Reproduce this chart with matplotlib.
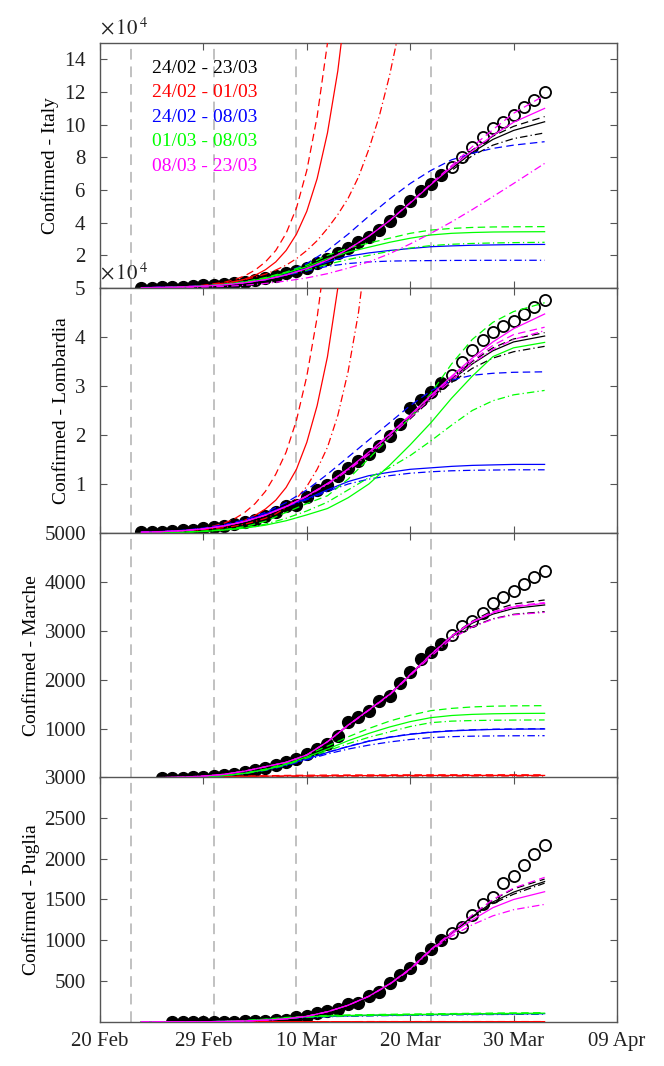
import matplotlib
matplotlib.use('Agg')
import matplotlib.pyplot as plt
from matplotlib.ticker import ScalarFormatter

plt.rcParams['font.family'] = ['Liberation Serif', 'DejaVu Serif']
plt.rcParams['mathtext.fontset'] = 'stix'

# --- x axis (days since 20 Feb, as laid out in the figure) ---
tick_pos = [0, 10, 20, 30, 40, 50]
tick_labels = ['20 Feb', '29 Feb', '10 Mar', '20 Mar', '30 Mar', '09 Apr']
window_lines = [3, 11, 19, 32]
last_fit_day = 33          # filled markers up to here, open ones after

fit_labels = ['24/02 - 23/03', '24/02 - 01/03', '24/02 - 08/03',
              '01/03 - 08/03', '08/03 - 23/03']
fit_colors = ['k', '#ff0000', '#0000ff', '#00ff00', '#ff00ff']

fit_days = [4, 6, 8, 10, 12, 14, 16, 18, 20, 22, 24, 26, 28, 30, 32, 34, 36, 38, 40, 43]
# the steep red curves are read daily
red_days = [4, 6, 8, 10, 12, 13, 14, 15, 16, 17, 18, 19, 20, 21, 22, 23, 24, 25, 26,
            27, 28, 29, 30, 32]

# --- observed confirmed cases ---
italy_start = 4
italy_cases = [229, 322, 400, 650, 888, 1128, 1694, 2036, 2502, 3089, 3858, 4636,
               5883, 7375, 9172, 10149, 12462, 15113, 17660, 21157, 24747, 27980,
               31506, 35713, 41035, 47021, 53578, 59138, 63927, 69176, 74386, 80539,
               86498, 92472, 97689, 101739, 105792, 110574, 115242, 119827]
lomb_start = 4
lomb_cases = [172, 240, 258, 403, 531, 615, 984, 1254, 1520, 1820, 2251, 2612,
              3420, 4189, 5469, 5791, 7280, 8725, 9820, 11685, 13272, 14649, 16220,
              17713, 19884, 22264, 25515, 27206, 28761, 30703, 32346, 34889, 37298,
              39415, 41007, 42161, 43208, 44773, 46065, 47520]
marche_start = 6
marche_cases = [1, 3, 6, 11, 25, 46, 61, 84, 124, 155, 199, 271, 323, 394, 479, 592,
                702, 863, 1133, 1242, 1371, 1568, 1671, 1947, 2154, 2421, 2569, 2736,
                2918, 3102, 3197, 3374, 3565, 3687, 3823, 3959, 4102, 4231]
puglia_start = 7
puglia_cases = [1, 1, 1, 1, 1, 1, 3, 6, 8, 13, 20, 29, 57, 78, 110, 139, 163, 215,
                233, 322, 371, 473, 575, 657, 779, 894, 1004, 1085, 1167, 1310, 1444,
                1534, 1697, 1787, 1922, 2056, 2166]

# --- fitted curves: Italy ---
it_k_solid = [250, 430, 760, 1300, 2150, 3450, 5400, 8200, 12000, 17200, 24000, 32000, 41500, 52500, 63000, 73000, 83000, 91000, 96500, 101800]
it_k_dash = [250, 430, 760, 1300, 2150, 3450, 5400, 8200, 12000, 17200, 24000, 32100, 41700, 52800, 63500, 74000, 84500, 93000, 99000, 105000]
it_k_dot = [250, 430, 760, 1300, 2150, 3450, 5400, 8200, 12000, 17100, 23800, 31700, 41000, 51800, 62500, 72000, 81000, 87500, 91500, 95000]
it_r_solid = [200, 350, 700, 1300, 2600, 3750, 5400, 7800, 11200, 16000, 23000, 33000, 47000, 67000, 95000, 133000, 185000, 255000, 350000, 480000, 650000, 880000, 1200000, 2200000]
it_r_dash = [200, 380, 800, 1700, 3500, 5100, 7500, 11000, 16000, 23000, 33500, 49000, 72000, 105000, 150000, 210000, 290000, 400000, 550000, 750000, 1000000, 1350000, 1800000, 3000000]
it_r_dot = [200, 400, 750, 1500, 3000, 4000, 5200, 6700, 8500, 11000, 14000, 18000, 23000, 29000, 36500, 45000, 55000, 68000, 85000, 105000, 130000, 160000, 195000, 290000]
it_b_solid = [250, 430, 760, 1300, 2150, 3400, 5300, 8300, 12000, 16000, 19500, 21500, 23000, 24200, 25300, 25800, 26200, 26400, 26600, 26700]
it_b_dash = [250, 430, 760, 1350, 2300, 3800, 6000, 9500, 15000, 23000, 33000, 44000, 54500, 64000, 72000, 78500, 82500, 85500, 87500, 89600]
it_b_dot = [250, 430, 760, 1300, 2100, 3300, 5000, 7800, 10500, 13300, 15000, 16000, 16500, 16700, 16800, 16900, 16950, 16980, 17000, 17000]
it_g_solid = [100, 250, 550, 1200, 2200, 3700, 6000, 9300, 13000, 18000, 22000, 25000, 28000, 30500, 32500, 33500, 34000, 34300, 34400, 34500]
it_g_dash = [100, 250, 560, 1250, 2300, 3900, 6400, 9800, 14000, 20000, 24500, 27500, 30500, 33500, 35500, 36500, 37100, 37400, 37500, 37600]
it_g_dot = [100, 250, 540, 1150, 2100, 3500, 5600, 8300, 11000, 14500, 17500, 20000, 22500, 24500, 26000, 26800, 27300, 27600, 27800, 28000]
it_m_solid = [200, 360, 650, 1150, 1950, 3200, 5150, 8000, 11900, 17100, 23800, 31800, 41200, 52000, 63300, 74000, 84000, 93500, 101500, 110000]
it_m_dash = [200, 360, 650, 1150, 1950, 3200, 5150, 8000, 11900, 17100, 23800, 31800, 41300, 52300, 63800, 75000, 86500, 97000, 107000, 118000]
it_m_dot = [100, 200, 350, 600, 1000, 1700, 2800, 4300, 6200, 8800, 12200, 16000, 21000, 27000, 33500, 40500, 48000, 56000, 64000, 76300]

# --- fitted curves: Lombardia ---
lo_k_solid = [180, 300, 520, 900, 1500, 2400, 3700, 5400, 7500, 10000, 12900, 16200, 19800, 23600, 27500, 31200, 34500, 37200, 39000, 40200]
lo_k_dash = [180, 300, 520, 900, 1500, 2400, 3700, 5400, 7500, 10000, 12900, 16200, 19900, 23800, 27700, 31500, 35000, 37800, 39600, 40900]
lo_k_dot = [180, 300, 520, 900, 1500, 2400, 3700, 5400, 7500, 10000, 12800, 16000, 19500, 23300, 27200, 30700, 33600, 35700, 37000, 38100]
lo_r_solid = [170, 280, 450, 750, 1400, 1900, 2600, 3600, 4900, 6700, 9300, 13000, 18500, 26000, 36000, 50000, 68000, 90000, 120000, 160000, 210000, 270000, 350000, 550000]
lo_r_dash = [170, 290, 500, 900, 2000, 2900, 4200, 6000, 8500, 12000, 16500, 23000, 32000, 44000, 60000, 80000, 105000, 140000, 185000, 240000, 310000, 400000, 510000, 800000]
lo_r_dot = [170, 270, 420, 700, 1100, 1400, 1800, 2350, 3000, 3900, 5200, 7000, 9500, 13000, 17500, 24000, 33000, 45000, 62000, 85000, 115000, 155000, 210000, 380000]
lo_b_solid = [180, 300, 520, 900, 1500, 2400, 3900, 5500, 7000, 8800, 10500, 11700, 12400, 13000, 13300, 13600, 13800, 13900, 14000, 14000]
lo_b_dash = [180, 300, 550, 1000, 1700, 2700, 4200, 6200, 8800, 12000, 15500, 19000, 22500, 26000, 29000, 31200, 32200, 32600, 32800, 32900]
lo_b_dot = [180, 300, 520, 900, 1500, 2400, 3900, 5400, 6800, 8500, 10000, 11000, 11700, 12200, 12500, 12700, 12800, 12850, 12900, 12900]
lo_g_solid = [40, 80, 160, 320, 600, 1000, 1600, 2500, 3700, 5000, 7200, 10000, 13800, 18000, 22500, 27500, 32000, 36000, 37800, 38900]
lo_g_dash = [40, 90, 180, 370, 700, 1300, 2400, 4200, 6000, 7600, 11000, 15200, 19500, 23500, 28500, 34500, 39500, 43000, 45200, 47000]
lo_g_dot = [40, 80, 160, 330, 620, 1050, 1800, 3000, 4500, 6300, 8800, 11300, 13300, 15800, 18800, 22000, 25000, 27000, 28200, 29100]
lo_m_solid = [150, 270, 480, 850, 1450, 2350, 3650, 5400, 7550, 10100, 13100, 16500, 20200, 24100, 28100, 32000, 35700, 39000, 41700, 44700]
lo_m_dash = [150, 270, 480, 850, 1450, 2350, 3650, 5400, 7550, 10100, 13000, 16300, 20000, 23900, 27900, 31700, 35200, 38300, 40500, 42000]
lo_m_dot = [150, 270, 480, 850, 1450, 2350, 3650, 5350, 7450, 9900, 12800, 16000, 19500, 23500, 27500, 31200, 34600, 37500, 39500, 41300]

# --- fitted curves: Marche ---
ma_k_solid = [3, 8, 18, 38, 75, 140, 230, 320, 470, 740, 1080, 1390, 1700, 2100, 2510, 2880, 3160, 3345, 3460, 3531]
ma_k_dash = [3, 8, 18, 38, 75, 140, 230, 320, 470, 740, 1080, 1390, 1710, 2110, 2530, 2900, 3200, 3420, 3550, 3633]
ma_k_dot = [3, 8, 18, 38, 75, 140, 230, 320, 470, 740, 1070, 1380, 1690, 2090, 2490, 2850, 3090, 3250, 3340, 3395]
ma_r_solid = [2, 5, 10, 18, 25, 32, 37, 41, 44, 46, 48, 49, 50, 51, 51, 52, 52, 52, 52, 52]
ma_r_dash = [2, 5, 11, 20, 30, 39, 46, 52, 56, 59, 61, 62, 63, 64, 64, 65, 65, 65, 65, 65]
ma_r_dot = [2, 4, 9, 15, 21, 26, 30, 33, 35, 36, 37, 38, 38, 39, 39, 39, 40, 40, 40, 40]
ma_b_solid = [2, 5, 10, 25, 50, 95, 165, 265, 390, 520, 640, 750, 830, 890, 933, 960, 978, 990, 996, 1000]
ma_b_dash = [2, 5, 10, 25, 50, 95, 167, 268, 395, 525, 645, 755, 836, 896, 938, 965, 983, 995, 1001, 1005]
ma_b_dot = [2, 5, 10, 25, 48, 90, 155, 250, 370, 490, 590, 670, 735, 785, 823, 843, 853, 858, 861, 863]
ma_g_solid = [2, 5, 10, 25, 50, 95, 170, 280, 430, 590, 760, 910, 1040, 1150, 1231, 1275, 1298, 1310, 1316, 1320]
ma_g_dash = [2, 5, 10, 25, 50, 100, 180, 300, 470, 650, 840, 1010, 1160, 1280, 1374, 1420, 1450, 1465, 1472, 1476]
ma_g_dot = [2, 5, 10, 25, 48, 90, 160, 265, 405, 555, 700, 830, 940, 1050, 1129, 1160, 1172, 1178, 1182, 1184]
ma_m_solid = [3, 8, 18, 38, 75, 140, 230, 320, 470, 740, 1080, 1390, 1705, 2105, 2520, 2890, 3180, 3370, 3490, 3565]
ma_m_dash = [3, 8, 18, 38, 75, 140, 230, 320, 470, 740, 1080, 1390, 1705, 2110, 2525, 2895, 3190, 3390, 3510, 3580]
ma_m_dot = [3, 8, 18, 38, 75, 140, 230, 320, 470, 740, 1070, 1380, 1690, 2085, 2480, 2840, 3080, 3240, 3330, 3380]

# --- fitted curves: Puglia ---
pu_k_solid = [0, 1, 2, 3, 6, 12, 22, 38, 70, 125, 205, 315, 465, 650, 880, 1090, 1290, 1470, 1590, 1720]
pu_k_dash = [0, 1, 2, 3, 6, 12, 22, 38, 70, 125, 205, 315, 465, 652, 885, 1095, 1305, 1495, 1630, 1750]
pu_k_dot = [0, 1, 2, 3, 6, 12, 22, 38, 70, 125, 205, 314, 463, 648, 875, 1085, 1280, 1450, 1565, 1700]
pu_r_solid = [0, 0, 1, 1, 2, 2, 3, 3, 3, 3, 3, 3, 4, 4, 4, 4, 4, 4, 4, 4]
pu_r_dash = [0, 0, 1, 1, 2, 3, 3, 4, 4, 4, 4, 5, 5, 5, 5, 5, 5, 5, 5, 5]
pu_r_dot = [0, 0, 1, 1, 1, 2, 2, 2, 3, 3, 3, 3, 3, 3, 3, 3, 3, 3, 3, 3]
pu_b_solid = [0, 0, 1, 3, 7, 15, 29, 46, 60, 70, 76, 80, 84, 87, 90, 93, 96, 98, 100, 102]
pu_b_dash = [0, 0, 1, 3, 7, 16, 30, 48, 62, 72, 78, 82, 86, 89, 92, 95, 98, 100, 102, 104]
pu_b_dot = [0, 0, 1, 3, 6, 14, 26, 42, 55, 64, 70, 74, 78, 81, 84, 87, 89, 91, 93, 95]
pu_g_solid = [0, 0, 1, 3, 7, 16, 31, 50, 64, 74, 80, 84, 88, 91, 94, 97, 100, 103, 105, 108]
pu_g_dash = [0, 0, 1, 3, 8, 18, 35, 55, 70, 80, 86, 90, 94, 97, 100, 103, 106, 109, 111, 114]
pu_g_dot = [0, 0, 1, 3, 7, 15, 28, 45, 58, 68, 74, 78, 82, 85, 88, 91, 94, 97, 99, 102]
pu_m_solid = [0, 1, 2, 3, 6, 12, 22, 38, 70, 125, 205, 315, 465, 650, 885, 1075, 1250, 1400, 1500, 1595]
pu_m_dash = [0, 1, 2, 3, 6, 12, 22, 38, 70, 125, 205, 315, 466, 653, 890, 1095, 1310, 1500, 1640, 1771]
pu_m_dot = [0, 1, 2, 3, 6, 12, 22, 38, 70, 125, 205, 313, 460, 640, 875, 1050, 1190, 1300, 1375, 1440]

DASH = (0, (6, 3.5))
DASHDOT = (0, (6, 2.5, 1, 2.5))
AX_COLOR = '#555555'


def draw_panel(ax, start, cases, curves, ylim, yticks, ylabel, sci=False):
    days = [start + i for i in range(len(cases))]
    fit_d = [d for d in days if d <= last_fit_day]
    fit_c = [c for d, c in zip(days, cases) if d <= last_fit_day]
    new_d = [d for d in days if d > last_fit_day]
    new_c = [c for d, c in zip(days, cases) if d > last_fit_day]

    for x in window_lines:
        ax.axvline(x, color='#b0b0b0', lw=1.1, linestyle=(0, (7, 4.5)), zorder=1)

    ax.plot(fit_d, fit_c, 'o', color='k', ms=8.5, zorder=2)
    ax.plot(new_d, new_c, 'o', mfc='none', mec='k', ms=8, mew=1.3, zorder=2)

    # one colour per fit window, three line styles each
    for color, (xd, group) in zip(fit_colors, curves):
        for vals, ls in zip(group, ['-', DASH, DASHDOT]):
            ax.plot(xd, vals, color=color, linestyle=ls, lw=0.9, zorder=3)

    ax.set_xlim(0, 50)
    ax.set_ylim(*ylim)
    ax.set_xticks(tick_pos)
    ax.set_yticks(yticks)
    ax.set_ylabel(ylabel, fontsize=14, labelpad=3)
    ax.tick_params(direction='in', top=True, right=True, length=5,
                   color=AX_COLOR, labelsize=15, labelcolor='#222222')
    ax.tick_params(axis='y', pad=10)
    ax.tick_params(axis='x', pad=7)
    for s in ax.spines.values():
        s.set_color(AX_COLOR)
        s.set_linewidth(1.0)
    if sci:
        fmt = ScalarFormatter(useMathText=True)
        fmt.set_powerlimits((4, 4))
        ax.yaxis.set_major_formatter(fmt)
        ax.yaxis.get_offset_text().set_visible(False)
        ax.text(0.0, 1.015, r'$\times\,10^{\;4}$', transform=ax.transAxes,
                fontsize=15, color='#222222', ha='left', va='bottom')


fig = plt.figure(figsize=(6.64, 10.66), dpi=100)
left, width, height = 0.1506, 0.7786, 0.2298
bottoms = [0.7298, 0.5000, 0.2702, 0.0413]
axes = [fig.add_axes([left, b, width, height]) for b in bottoms]

draw_panel(axes[0], italy_start, italy_cases,
           [(fit_days, [it_k_solid, it_k_dash, it_k_dot]),
            (red_days, [it_r_solid, it_r_dash, it_r_dot]),
            (fit_days, [it_b_solid, it_b_dash, it_b_dot]),
            (fit_days, [it_g_solid, it_g_dash, it_g_dot]),
            (fit_days, [it_m_solid, it_m_dash, it_m_dot])],
           (0, 150000), [20000, 40000, 60000, 80000, 100000, 120000, 140000],
           'Confirmed - Italy', sci=True)
draw_panel(axes[1], lomb_start, lomb_cases,
           [(fit_days, [lo_k_solid, lo_k_dash, lo_k_dot]),
            (red_days, [lo_r_solid, lo_r_dash, lo_r_dot]),
            (fit_days, [lo_b_solid, lo_b_dash, lo_b_dot]),
            (fit_days, [lo_g_solid, lo_g_dash, lo_g_dot]),
            (fit_days, [lo_m_solid, lo_m_dash, lo_m_dot])],
           (0, 50000), [10000, 20000, 30000, 40000, 50000],
           'Confirmed - Lombardia', sci=True)
draw_panel(axes[2], marche_start, marche_cases,
           [(fit_days, [ma_k_solid, ma_k_dash, ma_k_dot]),
            (fit_days, [ma_r_solid, ma_r_dash, ma_r_dot]),
            (fit_days, [ma_b_solid, ma_b_dash, ma_b_dot]),
            (fit_days, [ma_g_solid, ma_g_dash, ma_g_dot]),
            (fit_days, [ma_m_solid, ma_m_dash, ma_m_dot])],
           (0, 5000), [1000, 2000, 3000, 4000, 5000], 'Confirmed - Marche')
draw_panel(axes[3], puglia_start, puglia_cases,
           [(fit_days, [pu_k_solid, pu_k_dash, pu_k_dot]),
            (fit_days, [pu_r_solid, pu_r_dash, pu_r_dot]),
            (fit_days, [pu_b_solid, pu_b_dash, pu_b_dot]),
            (fit_days, [pu_g_solid, pu_g_dash, pu_g_dot]),
            (fit_days, [pu_m_solid, pu_m_dash, pu_m_dot])],
           (0, 3000), [500, 1000, 1500, 2000, 2500, 3000], 'Confirmed - Puglia')

for ax in axes[:3]:
    ax.set_xticklabels([])
axes[3].set_xticklabels(tick_labels)

# window labels written as coloured text in the top panel
for i, (lab, col) in enumerate(zip(fit_labels, fit_colors)):
    axes[0].text(0.10, 0.898 - 0.1 * i, lab, color=col, fontsize=14,
                 ha='left', va='center', transform=axes[0].transAxes)

fig.savefig('out.png', dpi=100, facecolor='white')
